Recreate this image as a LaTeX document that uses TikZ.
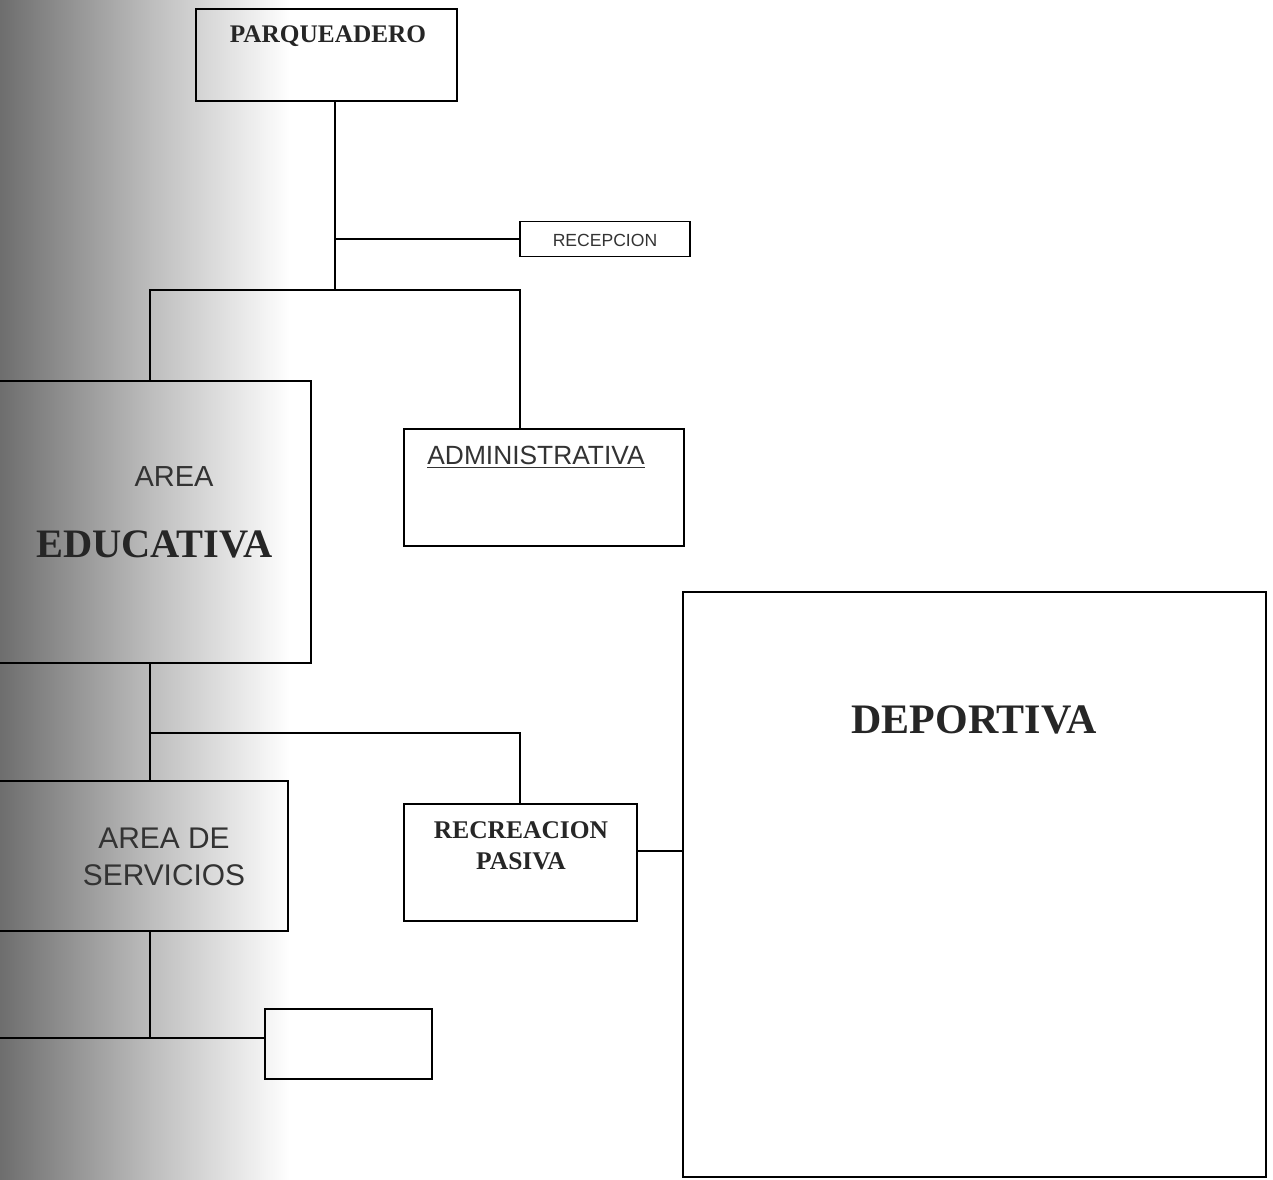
\documentclass[tikz,border=0pt]{standalone}
\usepackage{fontspec}
\setmainfont{Liberation Serif}
\setsansfont{Liberation Sans}
\begin{document}
\begin{tikzpicture}[x=0.02cm,y=-0.02cm,
  box/.style={draw=black, line width=0.8pt, rectangle, inner sep=0pt, outer sep=0pt},
  conn/.style={draw=black, line width=0.8pt},
  serifb/.style={font=\bfseries\rmfamily, inner sep=0pt, text=black!85},
  sanst/.style={font=\sffamily, inner sep=0pt, text=black!80}]
\clip (0,0) rectangle (1273,1179);
\fill[white] (0,0) rectangle (1273,1179);
\shade[left color=black!57, right color=black!26] (0,0) rectangle (150.5,1179);
\shade[left color=black!26, right color=white] (150,0) rectangle (290,1179);

% boxes
\node[box, minimum width=5.22cm, minimum height=1.84cm] (parq) at (326.5,55) {};
\node[box, minimum width=3.4cm, minimum height=0.7cm] (recep) at (605,239) {};
\node[box, minimum width=6.42cm, minimum height=5.64cm] (edu) at (150.5,522) {};
\node[box, minimum width=5.6cm, minimum height=2.34cm] (admin) at (544,487.5) {};
\node[box, minimum width=5.96cm, minimum height=3.0cm] (serv) at (139,856) {};
\node[box, minimum width=4.66cm, minimum height=2.34cm] (recre) at (520.5,862.5) {};
\node[box, minimum width=11.66cm, minimum height=11.7cm] (dep) at (974.5,884.5) {};
\node[box, minimum width=3.34cm, minimum height=1.4cm] (empty) at (348.5,1044) {};

% texts
\node[serifb, font=\fontsize{14.4}{17}\selectfont\bfseries] (parqtxt) at (328,36) {PARQUEADERO};
\node[sanst, font=\fontsize{10}{12}\selectfont\sffamily] (receptxt) at (605,240) {RECEPCION};
\node[sanst, font=\fontsize{16.5}{19}\selectfont\sffamily] (areatxt) at (174,477) {AREA};
\node[serifb, font=\fontsize{23}{27}\selectfont\bfseries] (edutxt) at (154.5,544) {EDUCATIVA};
\node[sanst, font=\fontsize{15}{18}\selectfont\sffamily] (admintxt) at (536,457) {\underline{ADMINISTRATIVA}};
\node[sanst, align=center, font=\fontsize{17}{21}\selectfont\sffamily] (servtxt) at (164,857) {AREA DE\\SERVICIOS};
\node[serifb, align=center, font=\fontsize{14.5}{17.6}\selectfont\bfseries] (recretxt) at (521,846) {RECREACION\\PASIVA};
\node[serifb, font=\fontsize{23.9}{28}\selectfont\bfseries] (deptxt) at (974,720) {DEPORTIVA};

% junction coordinates
\coordinate (t1) at (335,290);
\coordinate (r1) at (335,239);
\coordinate (a1) at (150,290);
\coordinate (a2) at (520,290);
\coordinate (b1) at (150,733);
\coordinate (b2) at (520,733);
\coordinate (p1) at (637,851);
\coordinate (c1) at (150,1038);
\coordinate (l1) at (0,1038);

% connectors
\draw[conn] (parq.south -| t1) -- (t1);
\draw[conn] (r1) -- (recep.west);
\draw[conn] (a1 |- edu.north) -- (a1) -- (a2) -- (a2 |- admin.north);
\draw[conn] (b1 |- edu.south) -- (b1 |- serv.north);
\draw[conn] (b1) -- (b2) -- (b2 |- recre.north);
\draw[conn] (recre.east |- p1) -- (dep.west |- p1);
\draw[conn] (c1 |- serv.south) -- (c1);
\draw[conn] (l1) -- (empty.west |- l1);
\end{tikzpicture}
\end{document}
